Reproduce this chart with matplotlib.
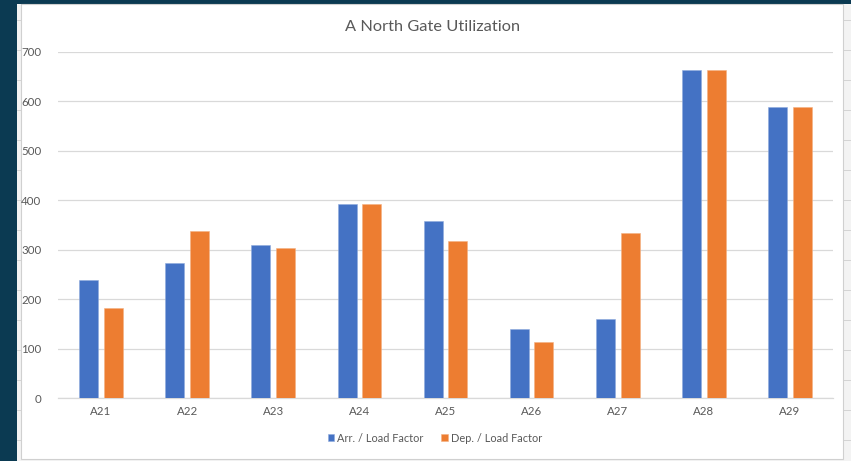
import matplotlib

matplotlib.use("Agg")
import matplotlib.pyplot as plt
import numpy as np
from matplotlib.patches import Rectangle

gates = ["A21", "A22", "A23", "A24", "A25", "A26", "A27", "A28", "A29"]
arr_load = [239, 273, 309, 393, 358, 140, 160, 664, 588]
dep_load = [182, 338, 303, 393, 318, 114, 334, 664, 588]
series_names = ["Arr. / Load Factor", "Dep. / Load Factor"]
y_ticks = [0, 100, 200, 300, 400, 500, 600, 700]

BLUE = "#4472C4"
ORANGE = "#ED7D31"
TEXT = "#595959"
GRID = "#D9D9D9"

plt.rcParams["font.family"] = ["Lato", "DejaVu Sans"]

W, H = 851, 461
fig = plt.figure(figsize=(W / 100, H / 100), dpi=100)
fig.patch.set_facecolor("#0B3A52")


def px(x0, y0, x1, y1):
    # pixel box (top-left origin) -> figure fraction rect
    return (x0 / W, 1 - y1 / H, (x1 - x0) / W, (y1 - y0) / H)


# spreadsheet strip on the left, light area on the right
for box in [(17, 4, 21, H), (843, 4, W, H), (17, 459, W, H)]:
    x, y, w, h = px(*box)
    fig.patches.append(Rectangle((x, y), w, h, transform=fig.transFigure,
                                 facecolor="#F3F3F3", edgecolor="none", zorder=-2))
for yy in range(20, H, 30):
    fig.add_artist(plt.Line2D([17 / W, 21 / W], [1 - yy / H] * 2,
                              color="#CFCFCF", lw=0.6, transform=fig.transFigure,
                              zorder=-1))
    fig.add_artist(plt.Line2D([843 / W, 1], [1 - yy / H] * 2,
                              color="#CFCFCF", lw=0.6, transform=fig.transFigure,
                              zorder=-1))

# chart area
x, y, w, h = px(21, 4, 843, 459)
fig.patches.append(Rectangle((x, y), w, h, transform=fig.transFigure,
                             facecolor="white", edgecolor="#D0D0D0", lw=0.8,
                             zorder=-1))

ax = fig.add_axes(px(58, 52, 833, 398))
ax.set_zorder(2)
ax.set_facecolor("none")

xpos = np.arange(len(gates))
bw = 0.22
off = 0.143
ax.bar(xpos - off, arr_load, bw, color=BLUE, edgecolor="#8FAADC", lw=0.4,
       label=series_names[0], zorder=3)
ax.bar(xpos + off, dep_load, bw, color=ORANGE, edgecolor="#F4B183", lw=0.4,
       label=series_names[1], zorder=3)

ax.set_xlim(-0.5, len(gates) - 0.5)
ax.set_ylim(0, 700)
ax.set_yticks(y_ticks)
ax.set_xticks(xpos)
ax.set_xticklabels(gates)
ax.tick_params(axis="both", length=0, labelsize=8.3, labelcolor=TEXT)
ax.tick_params(axis="y", pad=12)
ax.tick_params(axis="x", pad=6)
ax.grid(axis="y", color=GRID, lw=0.9, zorder=0)
for side in ["top", "right", "left"]:
    ax.spines[side].set_visible(False)
ax.spines["bottom"].set_color(GRID)
ax.spines["bottom"].set_linewidth(0.9)

fig.text(433 / W, 1 - 27 / H, "A North Gate Utilization", ha="center", va="center",
         fontsize=11.8, color=TEXT)

fig.legend(loc="center", bbox_to_anchor=(435 / W, 1 - 438 / H), ncol=2,
           frameon=False, fontsize=7.9, labelcolor=TEXT, handlelength=0.6,
           handleheight=0.6, handletextpad=0.3, columnspacing=1.6)

fig.savefig("out.png", dpi=100, facecolor=fig.get_facecolor())
